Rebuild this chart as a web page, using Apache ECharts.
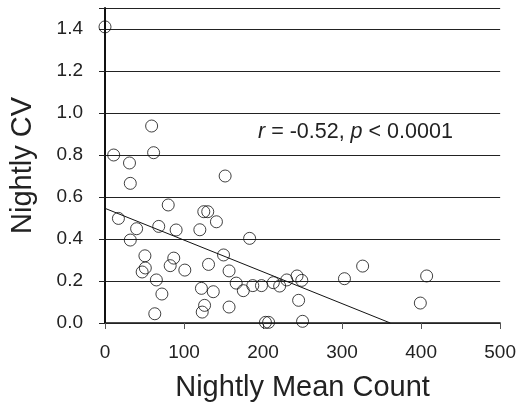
<!DOCTYPE html>
<html>
<head>
<meta charset="utf-8">
<script src="https://cdn.jsdelivr.net/npm/echarts@6/dist/echarts.min.js"></script>
<style>html,body{margin:0;padding:0;background:#fff}#c{width:519px;height:410px}</style>
</head>
<body>
<div id="c"></div>
<script>
// Nightly mean count (x) and nightly CV (y) for each site
const meanCount = [0, 11, 31, 32, 59, 61.5, 152, 17, 80, 40, 32, 68, 90, 120, 125, 130, 141, 183,
  50.5, 87, 82.5, 51, 47, 65, 101, 72, 63, 150, 131, 157, 122, 137, 126, 123, 157, 166, 175, 187,
  198, 213, 203, 207, 326, 303, 407, 399, 245, 250, 243, 249, 230, 221];
const nightlyCV = [1.41, 0.80, 0.762, 0.665, 0.938, 0.811, 0.70, 0.498, 0.562, 0.449, 0.395, 0.46,
  0.443, 0.444, 0.53, 0.53, 0.482, 0.403, 0.32, 0.309, 0.273, 0.262, 0.243, 0.205, 0.252, 0.138,
  0.044, 0.324, 0.279, 0.248, 0.165, 0.149, 0.084, 0.052, 0.076, 0.19, 0.154, 0.178, 0.178, 0.192,
  0.003, 0.003, 0.271, 0.211, 0.224, 0.095, 0.108, 0.008, 0.224, 0.203, 0.205, 0.176];
// Regression line endpoints
const fitX = [0, 361];
const fitY = [0.546, 0];
const xTicks = [0, 100, 200, 300, 400, 500];
const yTicks = [0.0, 0.2, 0.4, 0.6, 0.8, 1.0, 1.2, 1.4];
const annotation = { r: '-0.52', p: '0.0001' };

const FONT = 'Liberation Sans';
const chart = echarts.init(document.getElementById('c'), null, { renderer: 'canvas' });
chart.setOption({
  animation: false,
  backgroundColor: '#fff',
  textStyle: { fontFamily: FONT },
  grid: { left: 105, right: 18, top: 8, bottom: 87, containLabel: false },
  xAxis: [{
    type: 'value', min: xTicks[0], max: xTicks[xTicks.length - 1], interval: 100,
    axisLine: { show: true, onZero: false, lineStyle: { color: '#111', width: 1.5 } },
    axisTick: { show: true, inside: false, length: 6, lineStyle: { color: '#555', width: 1 } },
    splitLine: { show: false },
    axisLabel: { fontSize: 19, color: '#222', margin: 20 },
    name: 'Nightly Mean Count', nameLocation: 'middle', nameGap: 50,
    nameTextStyle: { fontSize: 29, color: '#222' }
  }, {
    type: 'value', position: 'top', min: 0, max: 500,
    axisLine: { show: true, lineStyle: { color: '#222', width: 1.2 } },
    axisTick: { show: false }, axisLabel: { show: false }, splitLine: { show: false }
  }],
  yAxis: {
    type: 'value', min: yTicks[0], max: 1.5, interval: 0.2,
    axisLine: { show: true, lineStyle: { color: '#111', width: 2 } },
    axisTick: { show: true, length: 6, lineStyle: { color: '#222' } },
    splitLine: { show: true, lineStyle: { color: '#222', width: 1.2 } },
    axisLabel: { fontSize: 19, color: '#222', margin: 22,
      formatter: v => (v > 1.45 ? '' : v.toFixed(1)) },
    name: 'Nightly CV', nameLocation: 'middle', nameGap: 68,
    nameTextStyle: { fontSize: 29, color: '#222' }
  },
  series: [{
    type: 'scatter',
    data: meanCount.map((x, i) => [x, nightlyCV[i]]),
    symbol: 'circle', symbolSize: 12,
    itemStyle: { color: 'rgba(0,0,0,0)', borderColor: '#111', borderWidth: 1 },
    z: 3
  }, {
    type: 'line',
    data: fitX.map((x, i) => [x, fitY[i]]),
    symbol: 'none',
    lineStyle: { color: '#111', width: 1 },
    z: 2
  }],
  graphic: [{
    type: 'text', left: 258, top: 121,
    style: {
      text: '{i|r} = ' + annotation.r + ', {i|p} < ' + annotation.p,
      font: '21.5px "' + FONT + '"', fill: '#222',
      rich: { i: { fontStyle: 'italic', fontSize: 21.5, fontFamily: FONT, fill: '#222' } }
    }
  }]
});
</script>
</body>
</html>
